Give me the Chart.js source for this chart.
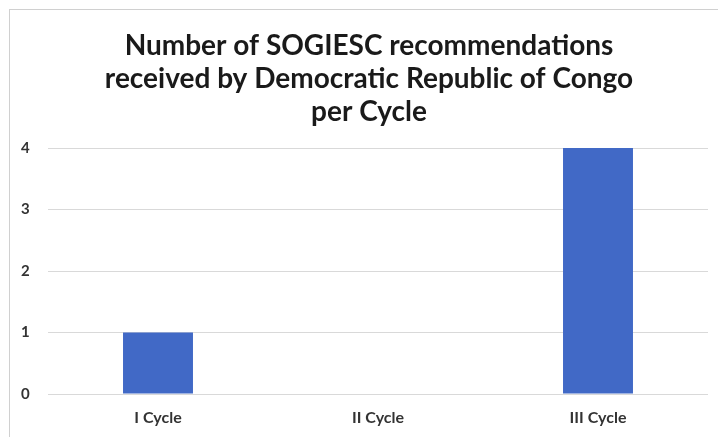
<!DOCTYPE html>
<html>
<head>
<meta charset="utf-8">
<script src="https://cdn.jsdelivr.net/npm/chart.js@4"></script>
<style>
  html, body { margin: 0; padding: 0; background: #fff; overflow: hidden; }
  #wrap { position: relative; width: 718px; height: 437px; }
  #frame {
    position: absolute; left: 9px; top: 9px; width: 800px; height: 500px;
    border: 1px solid #d0d0d0; box-sizing: border-box;
  }
  canvas { position: absolute; left: 0; top: 0; }
</style>
</head>
<body>
<div id="wrap">
  <div id="frame"></div>
  <canvas id="chart" width="718" height="437"></canvas>
</div>
<script>
const cycles = ["I Cycle", "II Cycle", "III Cycle"];
const recommendations = [1, 0, 4];
const titleLines = [
  "Number of SOGIESC recommendations",
  "received by Democratic Republic of Congo",
  "per Cycle",
];

const ctx = document.getElementById("chart");

new Chart(ctx, {
  type: "bar",
  data: {
    labels: cycles,
    datasets: [
      {
        label: "Recommendations",
        data: recommendations,
        backgroundColor: "#4169c6",
        borderWidth: 0,
        categoryPercentage: 1,
        barPercentage: 0.318,
      },
    ],
  },
  options: {
    responsive: false,
    animation: false,
    // extra left padding keeps the title centred like the original frame
    layout: { padding: { left: 30, right: 10, top: 0, bottom: 0 } },
    plugins: {
      legend: { display: false },
      tooltip: { enabled: false },
      title: {
        display: true,
        text: titleLines,
        color: "#1a1a1a",
        font: { family: "Lato", size: 28, weight: "bold", lineHeight: 1.18 },
        padding: { top: 29, bottom: 20 },
      },
    },
    scales: {
      x: {
        grid: { display: false, drawTicks: false },
        border: { display: false },
        ticks: {
          color: "#333",
          font: { family: "Lato", size: 16, weight: "bold" },
          padding: 14,
        },
        afterFit: (scale) => { scale.height = 43; },
      },
      y: {
        min: 0,
        max: 4,
        grid: { color: "#d9d9d9", lineWidth: 1, drawTicks: false },
        border: { display: false },
        ticks: {
          stepSize: 1,
          color: "#333",
          font: { family: "Lato", size: 15, weight: "bold" },
          // mirrored so the labels are not clipped by the narrow axis box
          mirror: true,
          crossAlign: "far",
          padding: -27,
        },
        afterFit: (scale) => { scale.width = 18; },
      },
    },
  },
});
</script>
</body>
</html>
